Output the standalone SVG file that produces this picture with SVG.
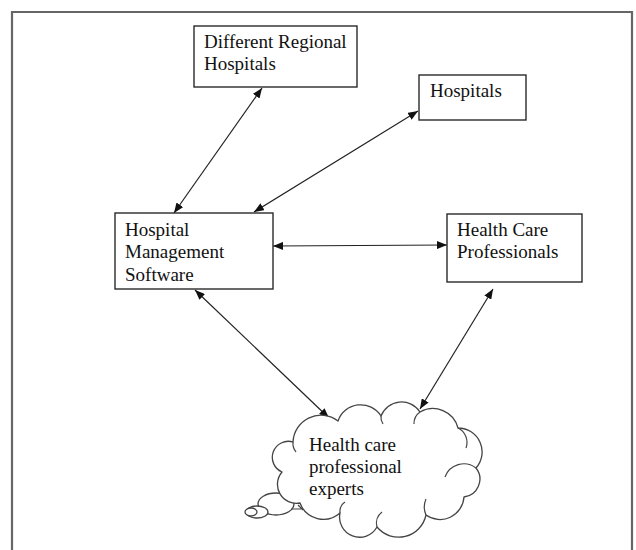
<svg xmlns="http://www.w3.org/2000/svg" width="636" height="550" viewBox="0 0 636 550">
  <style>
    .box { fill: #ffffff; stroke: #2a2a2a; stroke-width: 1.4; }
    .label { font-family: "Liberation Serif", "Times New Roman", serif; font-size: 19px; fill: #111111; }
    .link { stroke: #222222; stroke-width: 1.2; fill: none; marker-start: url(#tip); marker-end: url(#tip); }
    .cloud { fill: #ffffff; stroke: #444444; stroke-width: 1.3; stroke-linejoin: round; }
    .inner { fill: none; stroke: #444444; stroke-width: 1.2; }
  </style>
  <defs>
    <marker id="tip" markerUnits="userSpaceOnUse" markerWidth="10" markerHeight="8" refX="10" refY="4" orient="auto-start-reverse" viewBox="0 0 10 8">
      <path d="M0,0 L10,4 L0,8 z" fill="#111111"/>
    </marker>
  </defs>

  <rect x="0" y="0" width="636" height="550" fill="#ffffff"/>
  <!-- page frame -->
  <path d="M12,552 V12 H632 V552" fill="none" stroke="#666666" stroke-width="2.2"/>

  <g id="connectors">
    <line class="link" x1="262" y1="88" x2="174" y2="213"/>
    <line class="link" x1="418" y1="111" x2="254" y2="212"/>
    <line class="link" x1="273" y1="246" x2="447" y2="245"/>
    <line class="link" x1="195" y1="290" x2="329" y2="418"/>
    <line class="link" x1="493" y1="289" x2="420" y2="409"/>
  </g>

  <g id="regional-hospitals">
    <rect class="box" x="194" y="26" width="163" height="61"/>
    <text class="label" x="204" y="48">Different Regional</text>
    <text class="label" x="204" y="70">Hospitals</text>
  </g>

  <g id="hospitals">
    <rect class="box" x="419" y="75" width="107" height="45"/>
    <text class="label" x="430" y="97">Hospitals</text>
  </g>

  <g id="management-software">
    <rect class="box" x="115" y="213" width="158" height="76"/>
    <text class="label" x="125" y="236">Hospital</text>
    <text class="label" x="125" y="258">Management</text>
    <text class="label" x="125" y="281">Software</text>
  </g>

  <g id="care-professionals">
    <rect class="box" x="447" y="214" width="135" height="68"/>
    <text class="label" x="457" y="236">Health Care</text>
    <text class="label" x="457" y="258">Professionals</text>
  </g>

  <g id="experts-cloud">
    <!-- thought bubbles -->
    <path class="inner" d="M283,488 L280,494"/>
    <path class="inner" d="M292,509 L302,509 M298,505 L303,510"/>
    <ellipse class="cloud" cx="276" cy="504" rx="18" ry="11"/>
    <ellipse class="cloud" cx="257" cy="512" rx="11" ry="6"/>
    <ellipse class="cloud" cx="251" cy="512" rx="6" ry="4"/>
    <!-- cloud outline -->
    <path class="cloud" d="M282,472
      A16,16 0 0 1 293,442
      A28,28 0 0 1 338,421
      A24,24 0 0 1 381,416
      A22,22 0 0 1 420,412
      A26,26 0 0 1 458,428
      A24,24 0 0 1 476,468
      A18,18 0 0 1 464,497
      A24,24 0 0 1 426,515
      A28,28 0 0 1 377,527
      A20,20 0 0 1 340,513
      A25,25 0 0 1 300,503
      A19,19 0 0 1 282,472 Z"/>
    <!-- inner lobe creases -->
    <path class="inner" d="M293,442 A14,14 0 0 0 296,452"/>
    <path class="inner" d="M381,416 A12,12 0 0 0 383,424"/>
    <path class="inner" d="M420,412 A14,14 0 0 0 414,424"/>
    <path class="inner" d="M458,428 A16,16 0 0 1 466,448"/>
    <path class="inner" d="M476,468 A20,20 0 0 0 445,477"/>
    <path class="inner" d="M426,515 A20,20 0 0 1 426,499"/>
    <path class="inner" d="M377,527 A14,14 0 0 1 382,512"/>
    <path class="inner" d="M340,513 A12,12 0 0 1 345,502"/>
    <text class="label" x="309" y="451">Health care</text>
    <text class="label" x="309" y="473">professional</text>
    <text class="label" x="309" y="495">experts</text>
  </g>
</svg>
